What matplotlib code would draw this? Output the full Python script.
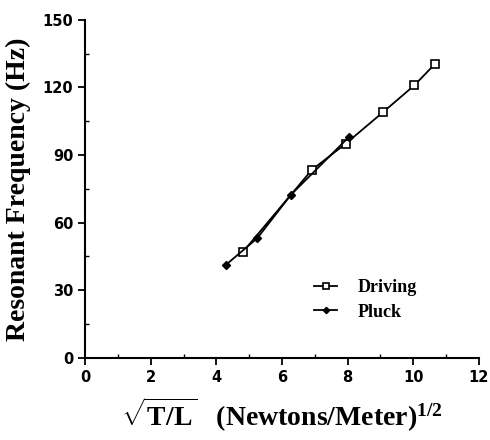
import matplotlib
matplotlib.use("Agg")
import matplotlib.pyplot as plt
from matplotlib.ticker import MultipleLocator

driving_x = [4.80, 6.91, 7.94, 9.07, 10.03, 10.66]
driving_y = [46.8, 83.4, 95.0, 108.9, 120.9, 130.4]
pluck_x = [4.29, 5.25, 6.27, 8.04]
pluck_y = [41.2, 53.1, 72.3, 98.0]
x_ticks = [0, 2, 4, 6, 8, 10, 12]
y_ticks = [0, 30, 60, 90, 120, 150]

plt.rcParams['font.family'] = ['DejaVu Sans']
plt.rcParams['font.weight'] = 'bold'
plt.rcParams['mathtext.fontset'] = 'custom'
plt.rcParams['mathtext.rm'] = 'Liberation Serif:bold'
plt.rcParams['mathtext.bf'] = 'Liberation Serif:bold'
plt.rcParams['mathtext.it'] = 'Liberation Serif:bold'

fig = plt.figure(figsize=(4.9, 4.4), dpi=100)
ax = fig.add_axes([0.1735, 0.187, 0.804, 0.768])

ax.plot(driving_x, driving_y, color='black', lw=1.3, marker='s', ms=6,
        mfc='white', mec='black', mew=1.2, label='Driving')
ax.plot(pluck_x, pluck_y, color='black', lw=1.3, marker='D', ms=4,
        mfc='black', mec='black', label='Pluck')

ax.set_xlim(0, 12)
ax.set_ylim(0, 150)
ax.set_xticks(x_ticks)
ax.set_yticks(y_ticks)
ax.xaxis.set_minor_locator(MultipleLocator(1))
ax.yaxis.set_minor_locator(MultipleLocator(15))
for s in ['top', 'right']:
    ax.spines[s].set_visible(False)
for s in ['left', 'bottom']:
    ax.spines[s].set_linewidth(1.5)
ax.tick_params(which='major', direction='out', length=5, width=1.3, labelsize=10.5)
ax.tick_params(which='minor', direction='in', length=3, width=1.0)

ax.set_ylabel('Resonant Frequency (Hz)', fontfamily='Liberation Serif',
              fontweight='bold', fontsize=20, labelpad=8)
ax.set_xlabel(r'$\sqrt{\mathbf{T/L}}$   (Newtons/Meter)$^{\mathbf{1/2}}$',
              fontfamily='Liberation Serif', fontweight='bold', fontsize=20,
              labelpad=8)

leg = ax.legend(loc='upper left', bbox_to_anchor=(0.54, 0.28), frameon=False,
                prop={'family': 'Liberation Serif', 'weight': 'bold', 'size': 13},
                handlelength=1.3, handletextpad=1.1, labelspacing=0.4,
                markerscale=0.8)

fig.savefig('out.png', dpi=100)
